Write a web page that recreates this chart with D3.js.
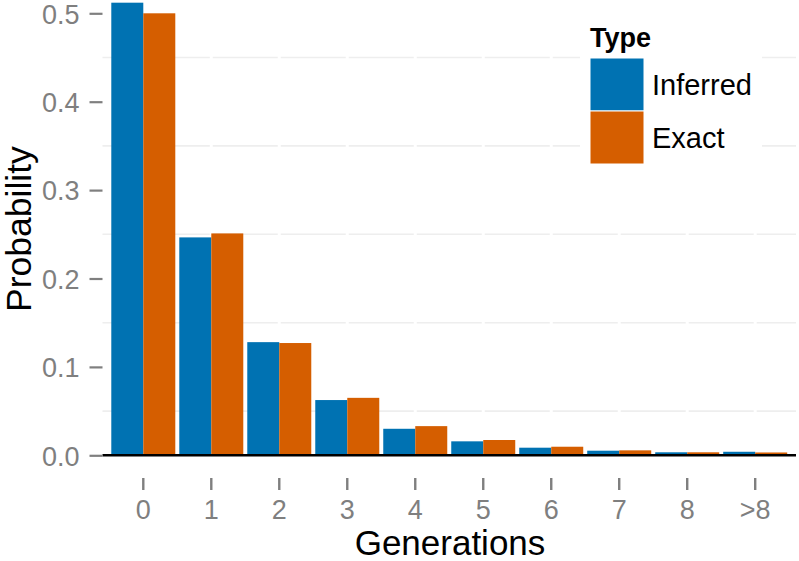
<!DOCTYPE html>
<html><head><meta charset="utf-8">
<script src="https://cdn.jsdelivr.net/npm/d3@7"></script>
<style>body{margin:0;background:#fff}svg{display:block}text{font-family:"Liberation Sans",Arial,sans-serif}</style>
</head><body><svg id="c" width="799" height="561"></svg>
<script>
const categories = ["0","1","2","3","4","5","6","7","8",">8"];
const inferred = [0.512,0.2465,0.128,0.0625,0.030,0.0158,0.0086,0.0052,0.0034,0.0040];
const exact    = [0.500,0.251,0.127,0.065,0.033,0.0173,0.0097,0.0056,0.0034,0.0032];
const seriesNames = ["Inferred","Exact"];
const seriesColors = ["#0072B2","#D55E00"];
const yTicks = [0,0.1,0.2,0.3,0.4,0.5];
const yMinor = [0.05,0.15,0.25,0.35,0.45];

const svg = d3.select("#c");
const left = 102.5, right = 796;
const x = d3.scaleBand().domain(categories).range([left, right]).paddingInner(0).paddingOuter(0.1);
const y = d3.scaleLinear().domain([0,0.5]).range([455.3,13.3]);
const xs = d3.scaleBand().domain(seriesNames).range([0, 64]);
const cx = c => x(c) + x.bandwidth()/2;

// gridlines (minor) broken at category centres
const g = svg.append("g");
yMinor.forEach(v => {
  g.append("line").attr("x1",left).attr("x2",right).attr("y1",y(v)).attr("y2",y(v))
   .attr("stroke","#eeeeee").attr("stroke-width",1.6);
});
categories.forEach(c => {
  g.append("line").attr("x1",cx(c)).attr("x2",cx(c)).attr("y1",y(0.5)-10).attr("y2",y(0))
   .attr("stroke","#ffffff").attr("stroke-width",3);
});

// bars
const data = categories.map((c,i)=>({c, vals:[inferred[i],exact[i]]}));
const bars = svg.append("g");
data.forEach(d => {
  d.vals.forEach((v,j) => {
    bars.append("rect")
      .attr("x", cx(d.c) - 32 + xs(seriesNames[j]))
      .attr("width", xs.bandwidth())
      .attr("y", y(v)).attr("height", y(0)-y(v))
      .attr("fill", seriesColors[j]);
  });
});

// x axis line
svg.append("line").attr("x1",left).attr("x2",right).attr("y1",y(0)).attr("y2",y(0))
  .attr("stroke","#000").attr("stroke-width",2.6);

// y axis ticks
const yAxis = d3.axisLeft(y).tickValues(yTicks).tickFormat(d3.format(".1f")).tickSize(13).tickPadding(10);
const ya = svg.append("g").attr("transform",`translate(${left},0)`).call(yAxis);
ya.select(".domain").remove();
ya.selectAll(".tick line").attr("stroke","#7f7f7f").attr("stroke-width",2.2);
ya.selectAll(".tick text").attr("fill","#7f7f7f").attr("font-size",27).attr("dy","0.36em");

// x axis ticks
categories.forEach(c => {
  svg.append("line").attr("x1",cx(c)).attr("x2",cx(c)).attr("y1",478).attr("y2",490)
    .attr("stroke","#7f7f7f").attr("stroke-width",2.4);
  svg.append("text").attr("x",cx(c)).attr("y",519).attr("text-anchor","middle")
    .attr("fill","#7f7f7f").attr("font-size",27).text(c);
});

// axis titles
svg.append("text").attr("x",450).attr("y",555).attr("text-anchor","middle")
  .attr("font-size",35).attr("fill","#000").text("Generations");
svg.append("text").attr("transform",`translate(30.5,229) rotate(-90)`).attr("text-anchor","middle")
  .attr("font-size",35.5).attr("fill","#000").text("Probability");

// legend
const lg = svg.append("g");
lg.append("rect").attr("x",580).attr("y",18).attr("width",182).attr("height",158).attr("fill","#fff");
lg.append("text").attr("x",590).attr("y",47).attr("font-size",27).attr("font-weight","bold").text("Type");
seriesNames.forEach((s,i)=>{
  lg.append("rect").attr("x",590).attr("y",58+i*53).attr("width",54).attr("height",53)
    .attr("fill",seriesColors[i]).attr("stroke","#fff").attr("stroke-width",1);
  lg.append("text").attr("x",652).attr("y",58+i*53+26.5).attr("dy","0.36em")
    .attr("font-size",29).text(s);
});
</script></body></html>
